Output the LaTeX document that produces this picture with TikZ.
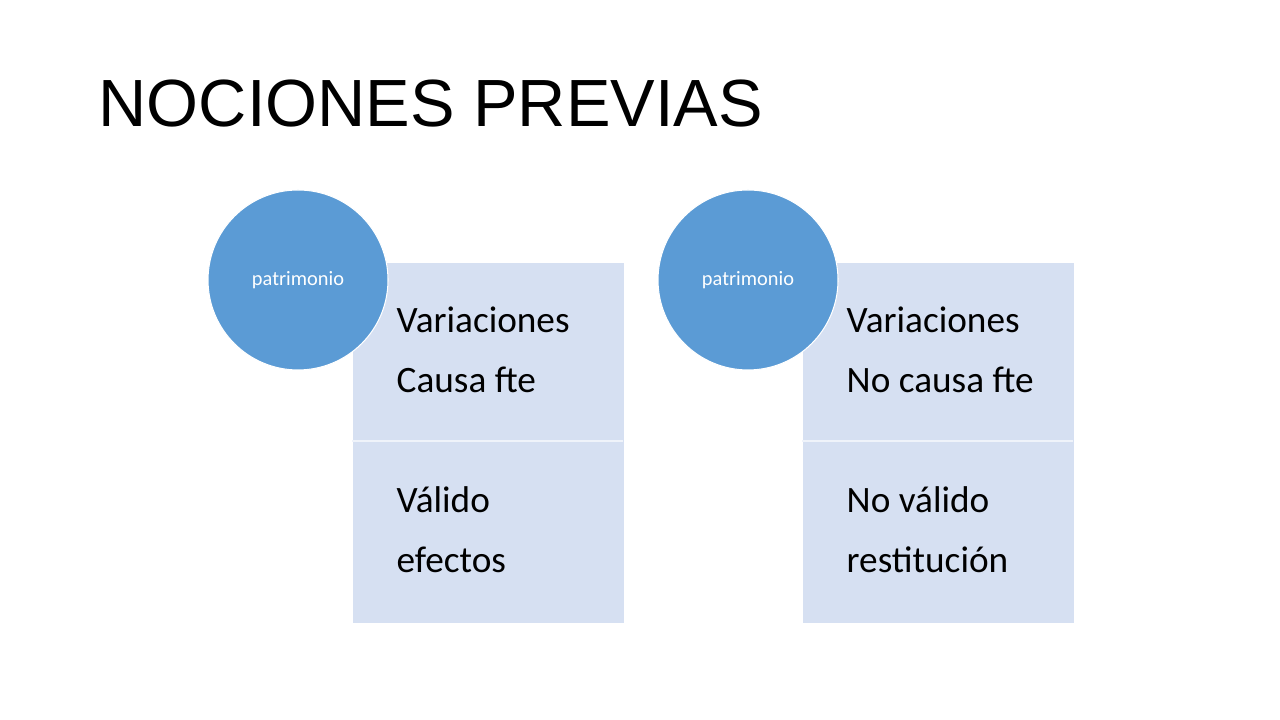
\documentclass[tikz,border=0pt]{standalone}
\usepackage{fontspec}
\setmainfont{Carlito}
\newfontfamily\titlefont{Liberation Sans}
\definecolor{circ}{HTML}{5B9BD5}
\definecolor{boxc}{HTML}{D6E0F2}
\tikzset{
 panel/.style={fill=boxc,draw=none,minimum width=2.71cm,minimum height=3.6cm,anchor=north west,inner sep=0pt},
 disc/.style={circle,fill=circ,draw=white,line width=0.3pt,minimum size=1.8cm,inner sep=0pt,text=white,font=\fontsize{5.8pt}{6pt}\selectfont},
 txt/.style={anchor=base west,inner sep=0pt,font=\fontsize{10.6pt}{12pt}\selectfont},
}
\begin{document}
\begin{tikzpicture}[x=1cm,y=1cm]
\useasboundingbox (0,0) rectangle (12.8,7.2);
\node[anchor=base west,inner sep=0pt,font=\titlefont\fontsize{19pt}{22pt}\selectfont] (title) at (0.98,7.2-1.27) {NOCIONES PREVIAS};
\foreach \i/\x/\a/\b/\c/\d in {L/3.52/Variaciones/Causa fte/Válido/efectos, R/8.02/Variaciones/No causa fte/No válido/restitución}{
 \node[panel] (box\i) at (\x,7.2-2.62) {};
 \draw[white!60!boxc,line width=0.6pt] (\x,7.2-4.41) -- ++(2.71,0);
 \node[txt] (a\i) at (\x+0.44,7.2-3.33) {\a};
 \node[txt] (b\i) at (\x+0.44,7.2-3.93) {\b};
 \node[txt] (c\i) at (\x+0.44,7.2-5.13) {\c};
 \node[txt] (d\i) at (\x+0.44,7.2-5.73) {\d};
 \node[disc] (c\i circ) at (\x-0.54,7.2-2.80) {patrimonio};
}
\end{tikzpicture}
\end{document}
